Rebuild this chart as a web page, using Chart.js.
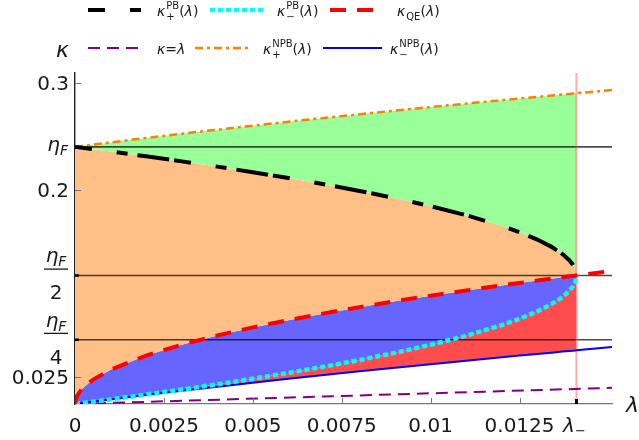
<!DOCTYPE html>
<html lang="en">
<head>
<meta charset="UTF-8">
<title>kappa - lambda</title>
<style>
  body { margin: 0; background: #fff; }
  #wrap { width: 639px; height: 440px; }
</style>
</head>
<body>
<div id="wrap"><canvas id="plot"></canvas></div>
<script src="https://cdn.jsdelivr.net/npm/chart.js"></script>
<script>
// values
const etaF = 0.24;
const lambdaMinus = 0.0141;
const lambdaMax = 0.0151;
const kappaMax = 0.309;

const lambdas = [0, 0.00005, 0.0002, 0.0005, 0.001, 0.002, 0.003, 0.004, 0.005, 0.006, 0.007, 0.008, 0.009,
  0.010, 0.011, 0.012, 0.0125, 0.013, 0.0134, 0.0137, 0.0139, 0.0140, 0.01405, 0.01408, 0.0141, 0.0151];
// PB curves stop at lambda_-
const kappaPlusPB = [0.24, 0.2398, 0.2392, 0.2379, 0.2357, 0.2312, 0.2265, 0.2216, 0.2164, 0.2110, 0.2052, 0.1989,
  0.1922, 0.1847, 0.1763, 0.1663, 0.1604, 0.1535, 0.1467, 0.1402, 0.1343, 0.1301, 0.1272, 0.1245, 0.12];
const kappaMinusPB = [0, 0.0002, 0.0009, 0.0022, 0.0043, 0.0088, 0.0135, 0.0184, 0.0236, 0.0291, 0.0349, 0.0411,
  0.0478, 0.0553, 0.0637, 0.0737, 0.0796, 0.0865, 0.0933, 0.0998, 0.1057, 0.1099, 0.1128, 0.1155, 0.12];
const kappaQE = [0, 0.0072, 0.0143, 0.0226, 0.0320, 0.0452, 0.0554, 0.0639, 0.0715, 0.0783, 0.0846, 0.0904, 0.0959,
  0.1011, 0.1060, 0.1107, 0.1130, 0.1152, 0.1170, 0.1183, 0.1192, 0.1196, 0.1198, 0.1199, 0.12, 0.1242];
const kappaPlusNPB = [0.24, 0.2402, 0.2409, 0.2421, 0.2442, 0.2483, 0.2523, 0.2561, 0.2598, 0.2635, 0.2670, 0.2705,
  0.2739, 0.2772, 0.2804, 0.2836, 0.2852, 0.2867, 0.2879, 0.2889, 0.2895, 0.2898, 0.2899, 0.2900, 0.2901, 0.2931];
const kappaMinusNPB = [0, 0.0002, 0.0009, 0.0021, 0.0042, 0.0083, 0.0123, 0.0161, 0.0198, 0.0235, 0.0270, 0.0305,
  0.0339, 0.0372, 0.0404, 0.0436, 0.0452, 0.0467, 0.0479, 0.0489, 0.0495, 0.0498, 0.0499, 0.0500, 0.0501, 0.0531];
const diagLambda = [0, 0.0151];
const diagKappa = [0, 0.0151];

const refLevels = [etaF, etaF / 2, etaF / 4];
const yTicks = [0.025, 0.2, 0.3];
const yTickLabels = ['0.025', '0.2', '0.3'];
const xTicks = [0.0025, 0.005, 0.0075, 0.01, 0.0125];
const xTickLabels = ['0.0025', '0.005', '0.0075', '0.01', '0.0125'];

const nPB = kappaPlusPB.length;
const pts = (ys) => ys.map((y, i) => ({ x: lambdas[i], y: y }));

function fillSet(ys, color) {
  return { data: pts(ys), borderWidth: 0, borderColor: 'rgba(0,0,0,0)', backgroundColor: color,
    fill: color ? '+1' : false, pointRadius: 0, order: 10 };
}
function curve(data, color, width, dash, order) {
  return { data: data, borderColor: color, borderWidth: width, borderDash: dash, fill: false,
    pointRadius: 0, order: order };
}

const datasets = [
  fillSet(kappaPlusNPB.slice(0, nPB), '#99ff99'),
  fillSet(kappaPlusPB, '#ffc087'),
  fillSet(kappaQE.slice(0, nPB), '#6666ff'),
  fillSet(kappaMinusPB, '#ff4d4d'),
  fillSet(kappaMinusNPB.slice(0, nPB), null)
];
refLevels.forEach(v => datasets.push(curve([{ x: 0, y: v }, { x: lambdaMax, y: v }], 'rgba(0,0,0,0.7)', 1.6, [], 6)));
datasets.push(curve([{ x: lambdaMinus, y: 0 }, { x: lambdaMinus, y: kappaMax }], 'rgba(255,70,70,0.45)', 2, [], 5));
const iDiag = datasets.push(curve(diagLambda.map((x, i) => ({ x: x, y: diagKappa[i] })), '#800080', 2, [12, 7], 4)) - 1;
const iMinusNPB = datasets.push(curve(pts(kappaMinusNPB), '#0000ff', 2, [], 3)) - 1;
const iPlusNPB = datasets.push(curve(pts(kappaPlusNPB), '#ff8000', 2.5, [8, 4, 3, 4], 3)) - 1;
const iMinusPB = datasets.push(curve(pts(kappaMinusPB), '#00ffff', 4.5, [5, 3], 2)) - 1;
const iPlusPB = datasets.push(curve(pts(kappaPlusPB), '#000000', 4, [17, 25, 11, 10, 32, 5], 1)) - 1;
const iQE = datasets.push(curve(pts(kappaQE), '#ff0000', 4, [16, 11], 0)) - 1;

// little text-run renderer for the math labels
const FONT = (s, it) => (it ? 'italic ' : '') + s + 'px "DejaVu Sans"';
function runWidth(ctx, run) {
  let w = 0;
  run.forEach(p => {
    if (p.stack) {
      ctx.font = FONT(p.s || 10, false);
      w += Math.max(ctx.measureText(p.sup || '').width, ctx.measureText(p.sub || '').width) + 1;
    } else {
      ctx.font = FONT(p.s || 14, p.it);
      w += ctx.measureText(p.t).width;
    }
  });
  return w;
}
function drawRun(ctx, run, x, base, align) {
  const w = runWidth(ctx, run);
  let cx = align === 'right' ? x - w : align === 'center' ? x - w / 2 : x;
  ctx.textAlign = 'left';
  ctx.textBaseline = 'alphabetic';
  run.forEach(p => {
    if (p.stack) {
      ctx.font = FONT(p.s || 10, false);
      if (p.sup) ctx.fillText(p.sup, cx + 1, base - 7);
      if (p.sub) ctx.fillText(p.sub, cx + 1, base + 4);
      cx += Math.max(ctx.measureText(p.sup || '').width, ctx.measureText(p.sub || '').width) + 1;
    } else {
      ctx.font = FONT(p.s || 14, p.it);
      ctx.fillText(p.t, cx, base + (p.dy || 0));
      cx += ctx.measureText(p.t).width;
    }
  });
}
const etaRun = [{ t: 'η', s: 20, it: true }, { t: 'F', s: 14, it: true, dy: 4 }];
const arg = [{ t: '(' }, { t: 'λ', it: true }, { t: ')' }];

const legendItems = [
  { ds: iPlusPB, x0: 88, x1: 148, tx: 157, y: 10, run: [{ t: 'κ', it: true }, { stack: 1, sup: 'PB', sub: '+' }].concat(arg) },
  { ds: iMinusPB, x0: 210, x1: 265, tx: 277, y: 10, run: [{ t: 'κ', it: true }, { stack: 1, sup: 'PB', sub: '−' }].concat(arg) },
  { ds: iQE, x0: 330, x1: 378, tx: 397, y: 10, run: [{ t: 'κ', it: true }, { stack: 1, sub: 'QE' }].concat(arg) },
  { ds: iDiag, x0: 88, x1: 145, tx: 157, y: 48, run: [{ t: 'κ', it: true }, { t: '=' }, { t: 'λ', it: true }] },
  { ds: iPlusNPB, x0: 195, x1: 248, tx: 263, y: 48, run: [{ t: 'κ', it: true }, { stack: 1, sup: 'NPB', sub: '+' }].concat(arg) },
  { ds: iMinusNPB, x0: 323, x1: 382, tx: 390, y: 48, run: [{ t: 'κ', it: true }, { stack: 1, sup: 'NPB', sub: '−' }].concat(arg) }
];

const mathAxes = {
  id: 'mathAxes',
  afterDraw(chart) {
    const ctx = chart.ctx;
    const xs = chart.scales.x, ys = chart.scales.y;
    const x0 = xs.getPixelForValue(0), y0 = ys.getPixelForValue(0);
    ctx.save();
    ctx.fillStyle = '#1a1a1a';

    // inward ticks
    ctx.strokeStyle = '#777';
    ctx.lineWidth = 1;
    ctx.beginPath();
    xTicks.forEach(v => { const px = Math.round(xs.getPixelForValue(v)) + 0.5; ctx.moveTo(px, y0); ctx.lineTo(px, y0 - 6); });
    yTicks.forEach(v => { const py = Math.round(ys.getPixelForValue(v)) + 0.5; ctx.moveTo(x0, py); ctx.lineTo(x0 + 6, py); });
    ctx.stroke();
    ctx.fillStyle = '#000';
    refLevels.forEach(v => ctx.fillRect(x0, ys.getPixelForValue(v) - 1.2, 4, 2.5));
    ctx.fillRect(xs.getPixelForValue(lambdaMinus) - 1.5, y0 - 5, 3, 5);

    // tick labels
    ctx.fillStyle = '#1a1a1a';
    ctx.font = FONT(20, false);
    ctx.textBaseline = 'alphabetic';
    ctx.textAlign = 'right';
    yTicks.forEach((v, i) => ctx.fillText(yTickLabels[i], 69, ys.getPixelForValue(v) + 7));
    ctx.textAlign = 'center';
    ctx.fillText('0', x0, 432);
    xTicks.forEach((v, i) => ctx.fillText(xTickLabels[i], xs.getPixelForValue(v), 432));
    drawRun(ctx, [{ t: 'λ', s: 20, it: true }, { t: '−', s: 13, dy: 3 }], xs.getPixelForValue(lambdaMinus) - 2, 432, 'center');

    // eta_F, eta_F/2, eta_F/4
    drawRun(ctx, etaRun, 68, ys.getPixelForValue(refLevels[0]) + 4.5, 'right');
    [[refLevels[1], '2'], [refLevels[2], '4']].forEach(([v, d]) => {
      const py = ys.getPixelForValue(v);
      ctx.fillRect(44, py - 7, 24, 1.3);
      drawRun(ctx, etaRun, 56, py - 13, 'center');
      ctx.font = FONT(20, false);
      ctx.textAlign = 'center';
      ctx.fillText(d, 56, py + 24);
    });

    // axis names
    drawRun(ctx, [{ t: 'κ', s: 22, it: true }], 56, 57, 'left');
    drawRun(ctx, [{ t: 'λ', s: 22, it: true }], 626, 412, 'left');

    // legend
    legendItems.forEach(it => {
      const ds = chart.data.datasets[it.ds];
      ctx.strokeStyle = ds.borderColor;
      ctx.lineWidth = ds.borderWidth;
      ctx.setLineDash(ds.borderDash || []);
      ctx.beginPath();
      ctx.moveTo(it.x0, it.y);
      ctx.lineTo(it.x1, it.y);
      ctx.stroke();
      ctx.setLineDash([]);
      ctx.fillStyle = '#1a1a1a';
      drawRun(ctx, it.run, it.tx, it.y + 6, 'left');
    });
    ctx.restore();
  }
};

new Chart(document.getElementById('plot'), {
  type: 'line',
  data: { datasets: datasets },
  options: {
    responsive: true,
    maintainAspectRatio: false,
    animation: false,
    events: [],
    devicePixelRatio: 1,
    layout: { padding: { top: 73, right: 27, left: 0, bottom: 0 } },
    plugins: { legend: { display: false }, tooltip: { enabled: false } },
    scales: {
      x: {
        type: 'linear', min: 0, max: lambdaMax, z: 1,
        grid: { display: false }, ticks: { display: false },
        border: { display: true, color: '#777', width: 1.3 },
        afterFit(s) { s.height = 36; }
      },
      y: {
        type: 'linear', min: 0, max: kappaMax, z: 1,
        grid: { display: false }, ticks: { display: false },
        border: { display: true, color: '#222', width: 1.4 },
        afterFit(s) { s.width = 75; }
      }
    }
  },
  plugins: [mathAxes]
});
</script>
</body>
</html>
